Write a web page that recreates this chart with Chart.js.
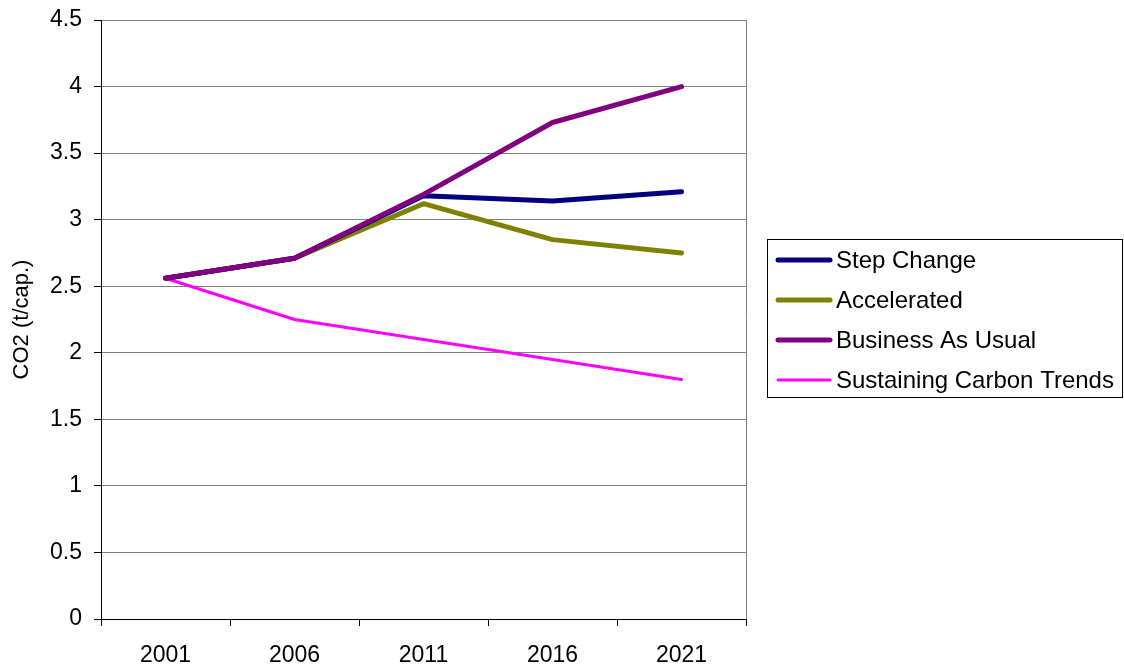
<!DOCTYPE html>
<html>
<head>
<meta charset="utf-8">
<title>CO2 per capita scenarios</title>
<script src="https://cdn.jsdelivr.net/npm/chart.js@4/dist/chart.umd.min.js"></script>
<style>
    body { margin: 0; background: #fff; }
    canvas { display: block; }
</style>
</head>
<body>
<canvas id="co2Chart" width="1124" height="666"></canvas>
<script>
// Data
const years = ['2001', '2006', '2011', '2016', '2021'];
const stepChange = [2.56, 2.71, 3.18, 3.14, 3.21];
const accelerated = [2.56, 2.71, 3.12, 2.85, 2.75];
const businessAsUsual = [2.56, 2.71, 3.19, 3.73, 4.0];
const sustainingCarbon = [2.56, 2.25, 2.10, 1.95, 1.80];
const yTicks = [0, 0.5, 1, 1.5, 2, 2.5, 3, 3.5, 4, 4.5];

const FONT = '"Liberation Sans", Arial, sans-serif';

// Boxed legend on the right, drawn like the spreadsheet one
const boxedLegend = {
    id: 'boxedLegend',
    afterDraw(chart) {
        const c = chart.ctx;
        const area = chart.chartArea;
        c.save();
        // right edge of the plot area
        c.strokeStyle = '#808080';
        c.lineWidth = 1;
        c.beginPath();
        c.moveTo(area.right + 0.5, area.top);
        c.lineTo(area.right + 0.5, area.bottom);
        c.stroke();

        c.strokeStyle = '#000';
        c.strokeRect(767.5, 239.5, 355, 158);
        c.font = '24px ' + FONT;
        c.textBaseline = 'middle';
        c.fillStyle = '#000';
        chart.data.datasets.forEach((ds, i) => {
            const y = 260 + i * 40;
            c.strokeStyle = ds.borderColor;
            c.lineWidth = ds.borderWidth;
            c.lineCap = 'round';
            c.beginPath();
            c.moveTo(778, y);
            c.lineTo(830, y);
            c.stroke();
            c.fillText(ds.label, 836, y + 1);
        });
        c.restore();
    }
};

const ctx = document.getElementById('co2Chart');
new Chart(ctx, {
    type: 'line',
    data: {
        labels: years,
        datasets: [{
            label: 'Step Change',
            data: stepChange,
            borderColor: '#000080',
            borderWidth: 5,
            order: 2
        }, {
            label: 'Accelerated',
            data: accelerated,
            borderColor: '#808000',
            borderWidth: 5,
            order: 3
        }, {
            label: 'Business As Usual',
            data: businessAsUsual,
            borderColor: '#800080',
            borderWidth: 5,
            order: 1
        }, {
            label: 'Sustaining Carbon Trends',
            data: sustainingCarbon,
            borderColor: '#ff00ff',
            borderWidth: 3,
            order: 4
        }]
    },
    options: {
        responsive: false,
        animation: false,
        layout: { padding: { top: 20, right: 378, left: 0, bottom: 0 } },
        elements: {
            point: { radius: 0, hoverRadius: 0 },
            line: { tension: 0, borderCapStyle: 'round', borderJoinStyle: 'round', fill: false }
        },
        plugins: {
            legend: { display: false },
            tooltip: { enabled: false }
        },
        scales: {
            x: {
                offset: true,
                afterFit: (scale) => {
                    scale.height = 47;
                    scale.paddingLeft = 0;
                    scale.paddingRight = 0;
                },
                grid: {
                    offset: true,
                    drawOnChartArea: false,
                    tickLength: 7,
                    tickColor: '#000'
                },
                border: { color: '#000', width: 1 },
                ticks: {
                    color: '#000',
                    padding: 16,
                    font: { family: FONT, size: 23 },
                    maxRotation: 0
                }
            },
            y: {
                min: 0,
                max: 4.5,
                afterFit: (scale) => {
                    scale.width = 101;
                    scale.paddingTop = 0;
                    scale.paddingBottom = 0;
                },
                afterBuildTicks: (scale) => { scale.ticks = yTicks.map(v => ({ value: v })); },
                grid: {
                    color: '#808080',
                    tickLength: 7,
                    tickColor: '#000'
                },
                border: { color: '#000', width: 1 },
                ticks: {
                    color: '#000',
                    padding: 12,
                    font: { family: FONT, size: 23 },
                    callback: (value) => String(value)
                },
                title: {
                    display: true,
                    text: 'CO2 (t/cap.)',
                    color: '#000',
                    font: { family: FONT, size: 22 },
                    padding: { top: 9, bottom: 0 }
                }
            }
        }
    },
    plugins: [boxedLegend]
});
</script>
</body>
</html>
